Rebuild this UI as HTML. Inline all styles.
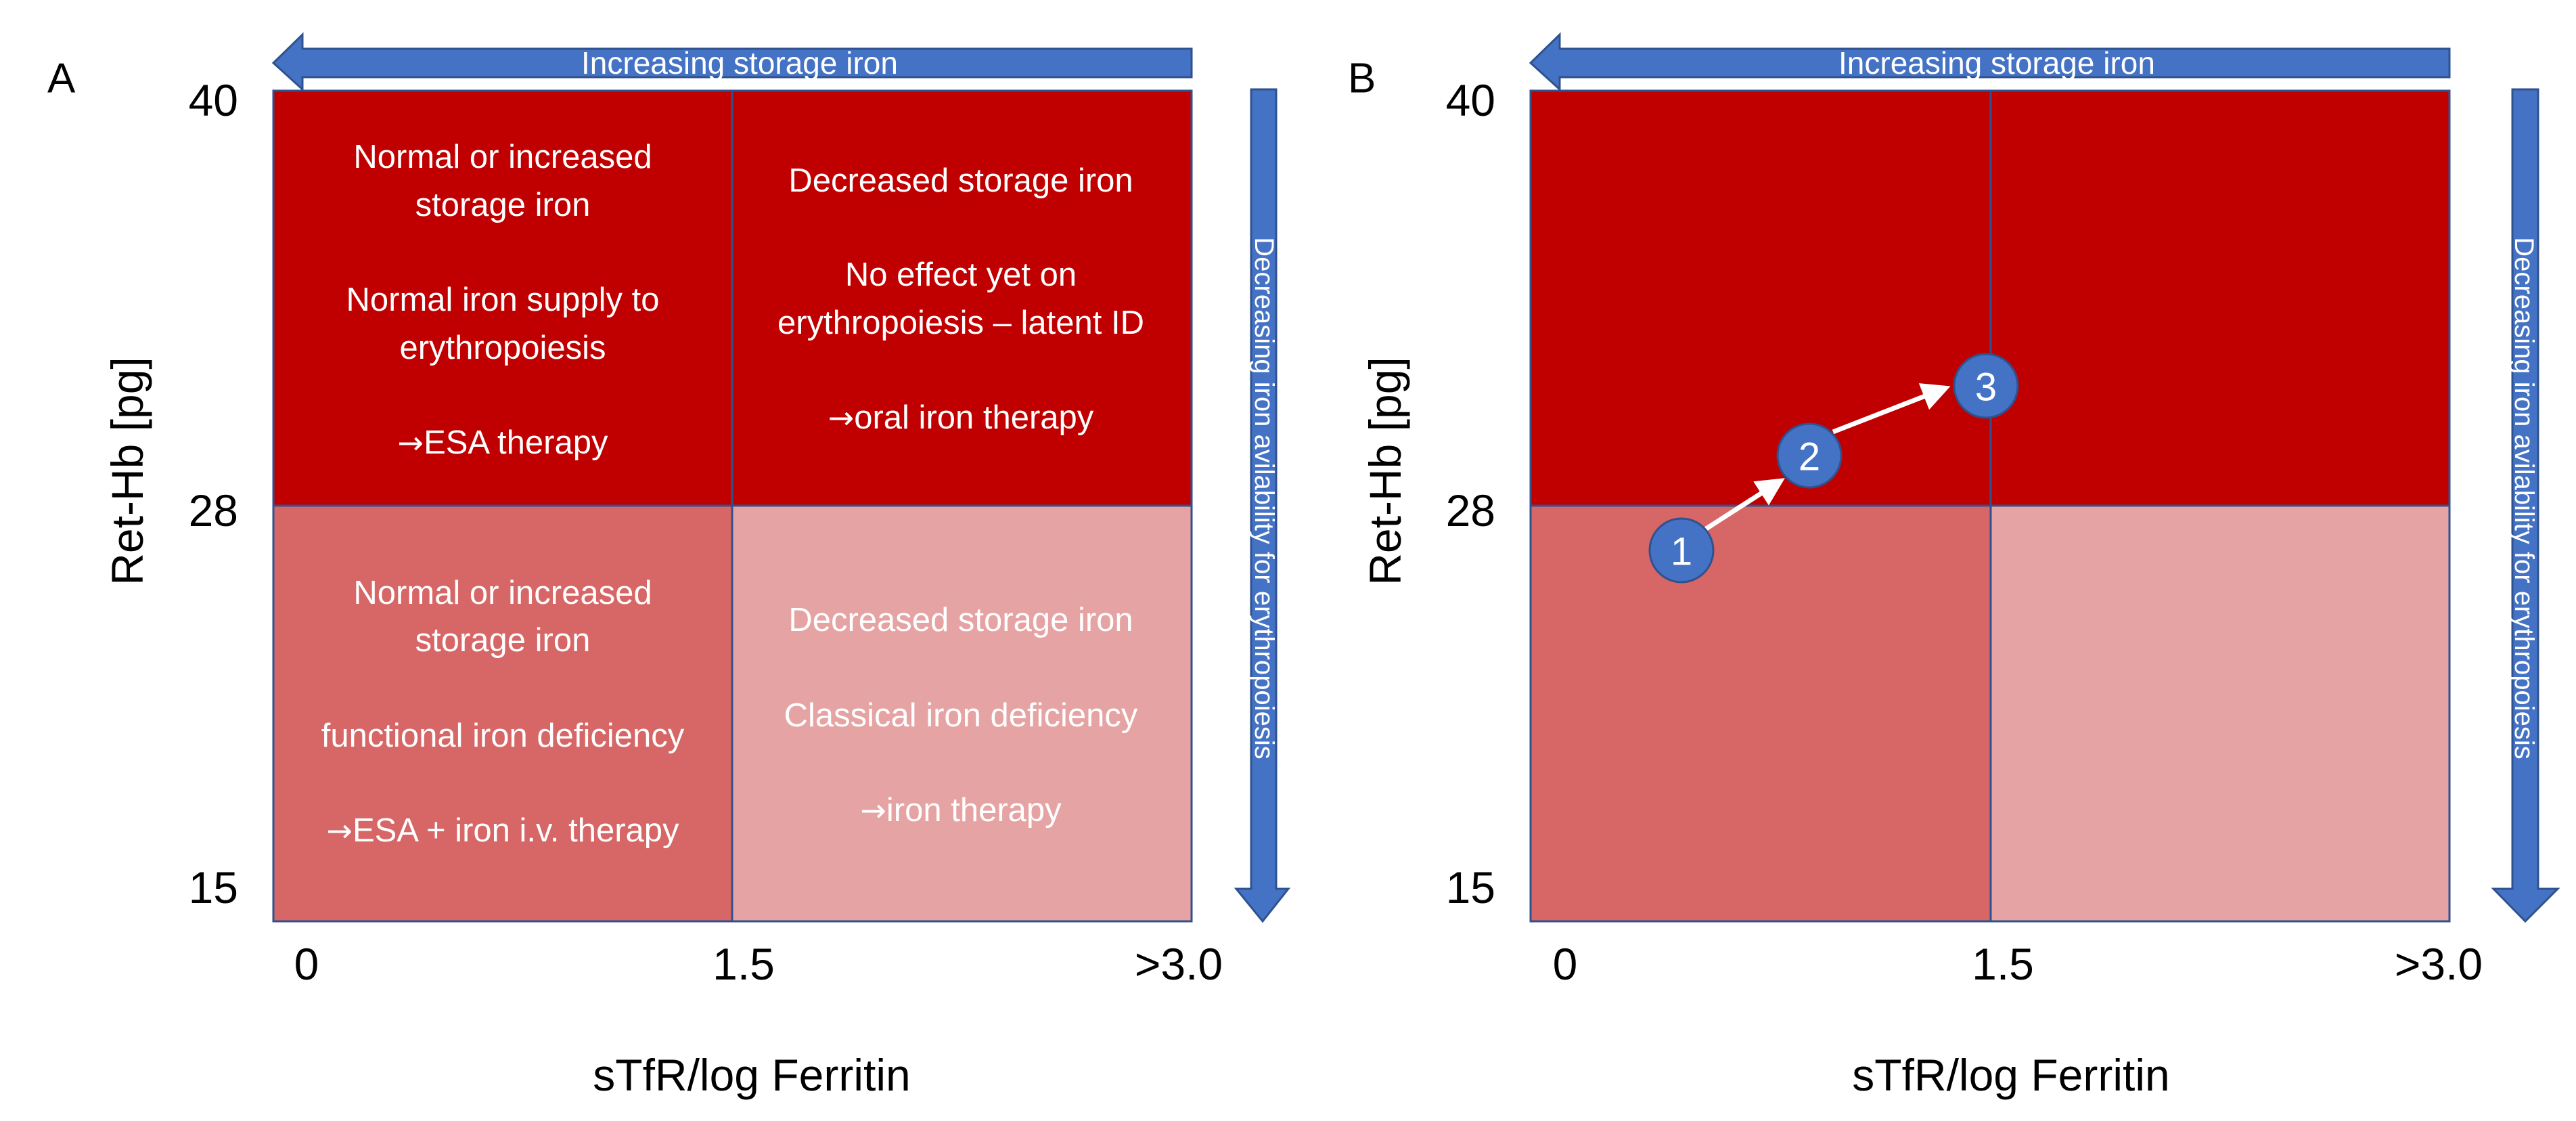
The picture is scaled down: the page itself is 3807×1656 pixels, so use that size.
<!DOCTYPE html>
<html><head><meta charset="utf-8"><style>
html,body{margin:0;padding:0;background:#fff;}
svg{display:block;}
text{font-family:"Liberation Sans",sans-serif;}
.c{fill:#fff;font-size:49px;text-anchor:middle;dominant-baseline:central;}
.t{fill:#000;font-size:66px;dominant-baseline:central;}
.ar{font-family:"DejaVu Sans",sans-serif;font-size:46px;}
</style></head><body>
<svg width="3807" height="1656" viewBox="0 0 3807 1656" xmlns="http://www.w3.org/2000/svg">
<defs>
<marker id="ah" markerWidth="6" markerHeight="6" refX="5" refY="3" orient="auto" markerUnits="strokeWidth">
<path d="M0,0 L6,3 L0,6 Z" fill="#fff"/></marker>
</defs>

<!-- Panel A -->
<text x="70" y="116" class="t" style="font-size:62px">A</text>
<polygon points="404,93 447,51 447,72 1761,72 1761,114 447,114 447,132" fill="#4472C4" stroke="#2F528F" stroke-width="3"/>
<text x="1093" y="93" fill="#fff" font-size="46" text-anchor="middle" dominant-baseline="central">Increasing storage iron</text>
<polygon points="1849,132 1886,132 1886,1313 1904,1313 1866,1361 1827,1313 1849,1313" fill="#4472C4" stroke="#2F528F" stroke-width="3"/>
<text transform="translate(1868,736) rotate(90)" fill="#fff" font-size="40" text-anchor="middle" dominant-baseline="central">Decreasing iron avilability for erythropoiesis</text>

<rect x="404" y="134" width="678" height="613" fill="#C00000"/>
<rect x="1082" y="134" width="679" height="613" fill="#C00000"/>
<rect x="404" y="747" width="678" height="614" fill="#D76666"/>
<rect x="1082" y="747" width="679" height="614" fill="#E6A3A3"/>
<rect x="404" y="134" width="1357" height="1227" fill="none" stroke="#2F528F" stroke-width="3"/>
<line x1="1082" y1="134" x2="1082" y2="1361" stroke="#2F528F" stroke-width="3"/>
<line x1="404" y1="747" x2="1761" y2="747" stroke="#2F528F" stroke-width="3"/>

<text class="c" x="743" y="232">Normal or increased</text>
<text class="c" x="743" y="303">storage iron</text>
<text class="c" x="743" y="443">Normal iron supply to</text>
<text class="c" x="743" y="514">erythropoiesis</text>
<text class="c" x="743" y="654"><tspan class="ar">→</tspan>ESA therapy</text>
<text class="c" x="1420" y="267">Decreased storage iron</text>
<text class="c" x="1420" y="406">No effect yet on</text>
<text class="c" x="1420" y="477">erythropoiesis – latent ID</text>
<text class="c" x="1420" y="617"><tspan class="ar">→</tspan>oral iron therapy</text>
<text class="c" x="743" y="876">Normal or increased</text>
<text class="c" x="743" y="946">storage iron</text>
<text class="c" x="743" y="1087">functional iron deficiency</text>
<text class="c" x="743" y="1227"><tspan class="ar">→</tspan>ESA + iron i.v. therapy</text>
<text class="c" x="1420" y="916">Decreased storage iron</text>
<text class="c" x="1420" y="1057">Classical iron deficiency</text>
<text class="c" x="1420" y="1197"><tspan class="ar">→</tspan>iron therapy</text>

<text class="t" x="352" y="148" text-anchor="end">40</text>
<text class="t" x="352" y="754" text-anchor="end">28</text>
<text class="t" x="352" y="1311" text-anchor="end">15</text>
<text class="t" x="453" y="1424" text-anchor="middle">0</text>
<text class="t" x="1099" y="1424" text-anchor="middle">1.5</text>
<text class="t" x="1742" y="1424" text-anchor="middle">&gt;3.0</text>
<text class="t" x="1111" y="1588" text-anchor="middle">sTfR/log Ferritin</text>
<text class="t" transform="translate(188,696) rotate(-90)" text-anchor="middle">Ret-Hb [pg]</text>

<!-- Panel B -->
<text x="1992" y="116" class="t" style="font-size:62px">B</text>
<polygon points="2262,93 2305,51 2305,72 3620,72 3620,114 2305,114 2305,132" fill="#4472C4" stroke="#2F528F" stroke-width="3"/>
<text x="2951" y="93" fill="#fff" font-size="46" text-anchor="middle" dominant-baseline="central">Increasing storage iron</text>
<polygon points="3713,132 3751,132 3751,1313 3780,1313 3732,1361 3685,1313 3713,1313" fill="#4472C4" stroke="#2F528F" stroke-width="3"/>
<text transform="translate(3730,736) rotate(90)" fill="#fff" font-size="40" text-anchor="middle" dominant-baseline="central">Decreasing iron avilability for erythropoiesis</text>

<rect x="2262" y="134" width="680" height="613" fill="#C00000"/>
<rect x="2942" y="134" width="678" height="613" fill="#C00000"/>
<rect x="2262" y="747" width="680" height="614" fill="#D76666"/>
<rect x="2942" y="747" width="678" height="614" fill="#E6A3A3"/>
<rect x="2262" y="134" width="1358" height="1227" fill="none" stroke="#2F528F" stroke-width="3"/>
<line x1="2942" y1="134" x2="2942" y2="1361" stroke="#2F528F" stroke-width="3"/>
<line x1="2262" y1="747" x2="3620" y2="747" stroke="#2F528F" stroke-width="3"/>

<line x1="2520" y1="782" x2="2632" y2="710" stroke="#fff" stroke-width="7" marker-end="url(#ah)"/>
<line x1="2709" y1="638" x2="2876" y2="573" stroke="#fff" stroke-width="7" marker-end="url(#ah)"/>
<circle cx="2485" cy="813" r="47" fill="#4472C4" stroke="#2F528F" stroke-width="3"/>
<circle cx="2674" cy="673" r="47" fill="#4472C4" stroke="#2F528F" stroke-width="3"/>
<circle cx="2935" cy="570" r="47" fill="#4472C4" stroke="#2F528F" stroke-width="3"/>
<text class="c" x="2485" y="815" style="font-size:58px">1</text>
<text class="c" x="2674" y="675" style="font-size:58px">2</text>
<text class="c" x="2935" y="572" style="font-size:58px">3</text>

<text class="t" x="2210" y="148" text-anchor="end">40</text>
<text class="t" x="2210" y="754" text-anchor="end">28</text>
<text class="t" x="2210" y="1311" text-anchor="end">15</text>
<text class="t" x="2313" y="1424" text-anchor="middle">0</text>
<text class="t" x="2960" y="1424" text-anchor="middle">1.5</text>
<text class="t" x="3604" y="1424" text-anchor="middle">&gt;3.0</text>
<text class="t" x="2972" y="1588" text-anchor="middle">sTfR/log Ferritin</text>
<text class="t" transform="translate(2047,696) rotate(-90)" text-anchor="middle">Ret-Hb [pg]</text>
</svg>
</body></html>
